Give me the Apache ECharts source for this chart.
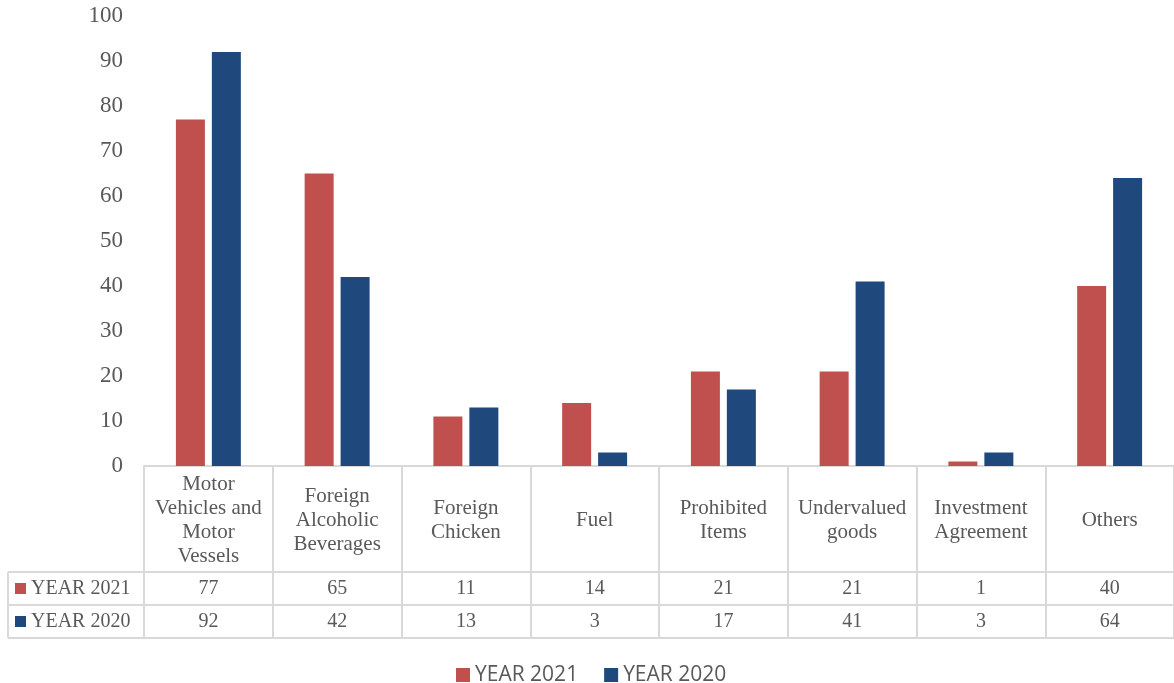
<!DOCTYPE html>
<html>
<head>
<meta charset="utf-8">
<script src="https://cdn.jsdelivr.net/npm/echarts@6/dist/echarts.min.js"></script>
<style>
  html, body { margin: 0; padding: 0; background: #ffffff; }
  #chart { width: 1174px; height: 683px; }
</style>
</head>
<body>
<div id="chart"></div>
<script>
// Seizure categories (line breaks as shown in the table header cells)
const categories = [
  'Motor\nVehicles and\nMotor\nVessels',
  'Foreign\nAlcoholic\nBeverages',
  'Foreign\nChicken',
  'Fuel',
  'Prohibited\nItems',
  'Undervalued\ngoods',
  'Investment\nAgreement',
  'Others'
];
const seriesNames = ['YEAR 2021', 'YEAR 2020'];
const values2021 = [77, 65, 11, 14, 21, 21, 1, 40];
const values2020 = [92, 42, 13, 3, 17, 41, 3, 64];
const yTicks = { min: 0, max: 100, interval: 10 };

const colors = ['#C0504D', '#1F497D'];
const textGray = '#595959';
const lineGray = '#D9D9D9';
const serif = '"Liberation Serif", "Times New Roman", serif';

// Plot geometry
const gridLeft = 144, gridTop = 16, gridBottom = 217, gridWidth = 1037;
const axisY = 683 - gridBottom;        // y of the category axis line
const rowTop1 = axisY + 106;           // top of the YEAR 2021 row
const rowTop2 = axisY + 139;           // top of the YEAR 2020 row
const tableBottom = axisY + 172;       // bottom edge of the table
const tableLeft = 8;

const chart = echarts.init(document.getElementById('chart'));

// Value row of the data table: an extra category axis whose line is the row's top border
function rowAxis(data, offset, showLabel) {
  return {
    type: 'category',
    position: 'bottom',
    gridIndex: 0,
    offset: offset,
    data: data.map(String),
    axisLine: { show: true, lineStyle: { color: lineGray, width: 2 } },
    axisTick: { show: false },
    axisLabel: {
      show: showLabel,
      interval: 0,
      margin: 17,
      verticalAlign: 'middle',
      fontFamily: serif,
      fontSize: 20,
      color: textGray
    },
    splitLine: { show: false }
  };
}

function rowKey(y, color, name) {
  return [
    { type: 'rect', shape: { x: 15, y: y + 11, width: 11, height: 11 }, style: { fill: color } },
    { type: 'text', style: { x: 31, y: y + 17, text: name, fontFamily: serif, fontSize: 20,
        fill: textGray, verticalAlign: 'middle', align: 'left' } }
  ];
}

const option = {
  backgroundColor: '#ffffff',
  animation: false,
  grid: { left: gridLeft, top: gridTop, bottom: gridBottom, width: gridWidth, containLabel: false },
  xAxis: [
    {
      type: 'category',
      data: categories,
      axisLine: { show: true, lineStyle: { color: lineGray, width: 2 } },
      axisTick: { show: true, alignWithLabel: false, length: tableBottom - axisY,
                  lineStyle: { color: lineGray, width: 2 } },
      axisLabel: {
        interval: 0,
        margin: 54,
        verticalAlign: 'middle',
        align: 'center',
        lineHeight: 24,
        fontFamily: serif,
        fontSize: 21,
        color: textGray
      },
      splitLine: { show: false }
    },
    rowAxis(values2021, rowTop1 - axisY, true),
    rowAxis(values2020, rowTop2 - axisY, true),
    rowAxis(values2020, tableBottom - axisY, false)
  ],
  yAxis: {
    type: 'value',
    min: yTicks.min,
    max: yTicks.max,
    interval: yTicks.interval,
    axisLine: { show: false },
    axisTick: { show: false },
    splitLine: { show: false },
    axisLabel: { margin: 21, fontFamily: serif, fontSize: 23, color: textGray }
  },
  legend: {
    data: seriesNames,
    left: 456,
    top: 664,
    padding: 0,
    icon: 'rect',
    itemWidth: 14,
    itemHeight: 14,
    itemGap: 26,
    selectedMode: false,
    textStyle: { fontFamily: '"Open Sans", sans-serif', fontSize: 21, lineHeight: 22, color: textGray }
  },
  series: [
    { name: seriesNames[0], type: 'bar', data: values2021, barWidth: 29, barGap: '24%',
      itemStyle: { color: colors[0] } },
    { name: seriesNames[1], type: 'bar', data: values2020, barWidth: 29, barGap: '24%',
      itemStyle: { color: colors[1] } }
  ],
  graphic: [
    // left column of the data table
    { type: 'line', shape: { x1: tableLeft, y1: rowTop1, x2: gridLeft, y2: rowTop1 }, style: { stroke: lineGray, lineWidth: 2 } },
    { type: 'line', shape: { x1: tableLeft, y1: rowTop2, x2: gridLeft, y2: rowTop2 }, style: { stroke: lineGray, lineWidth: 2 } },
    { type: 'line', shape: { x1: tableLeft, y1: tableBottom, x2: gridLeft, y2: tableBottom }, style: { stroke: lineGray, lineWidth: 2 } },
    { type: 'line', shape: { x1: tableLeft, y1: rowTop1, x2: tableLeft, y2: tableBottom }, style: { stroke: lineGray, lineWidth: 2 } },
    ...rowKey(rowTop1, colors[0], seriesNames[0]),
    ...rowKey(rowTop2, colors[1], seriesNames[1])
  ]
};

chart.setOption(option);
</script>
</body>
</html>
